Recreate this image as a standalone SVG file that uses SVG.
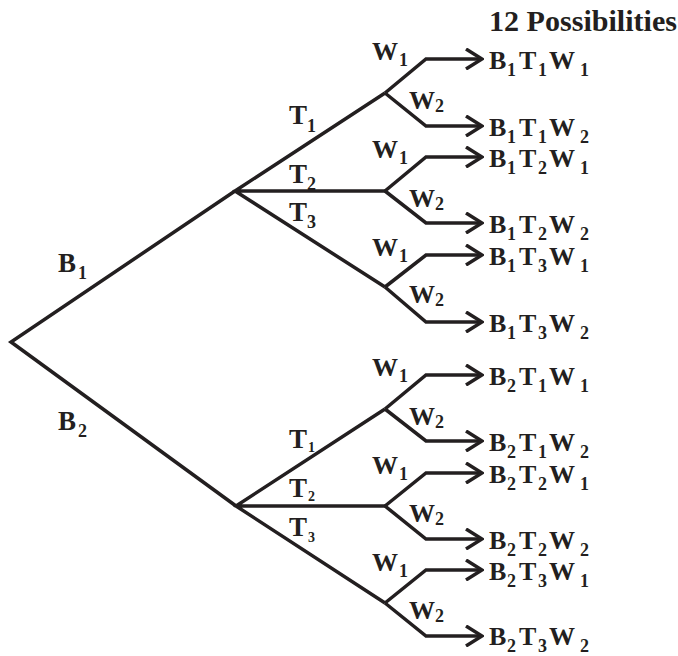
<svg xmlns="http://www.w3.org/2000/svg" width="678" height="656" viewBox="0 0 678 656">
  <style>
    .ln { fill: none; stroke: #231f20; stroke-width: 3.5; stroke-linejoin: miter; stroke-linecap: butt; }
    .lf { fill: none; stroke: #231f20; stroke-width: 3.5; stroke-linejoin: miter; marker-end: url(#arr); }
    text { font-family: "Liberation Serif", "Times New Roman", serif; font-weight: bold; fill: #231f20; }
    .t { font-size: 27px; }
    .w { font-size: 26px; }
    .o { font-size: 26px; }
    .s { font-size: 18px; }
    .ss { font-size: 14px; }
  </style>
  <defs>
    <marker id="arr" viewBox="0 0 20 22" refX="18" refY="11" markerWidth="20" markerHeight="22" markerUnits="userSpaceOnUse" orient="auto">
      <path d="M2,1 L18,11 L2,21" fill="none" stroke="#231f20" stroke-width="3.5" stroke-linejoin="miter"/>
    </marker>
  </defs>
  <rect width="678" height="656" fill="#ffffff"/>

  <g id="connectors">
    <path class="ln" d="M235,191 L11,342 L236,506"/>
    <path class="ln" d="M385,93 L235,191 L385,287 M235,191 L385,191"/>
    <path class="ln" d="M385,409 L236,506 L385,603 M236,506 L385,506"/>
    <path class="lf" d="M385,93 L426,59 L482,59"/>
    <path class="lf" d="M385,93 L426,126 L482,126"/>
    <path class="lf" d="M385,191 L426,157 L482,157"/>
    <path class="lf" d="M385,191 L426,223 L482,223"/>
    <path class="lf" d="M385,287 L426,255 L482,255"/>
    <path class="lf" d="M385,287 L426,322 L482,322"/>
    <path class="lf" d="M385,409 L426,375 L482,375"/>
    <path class="lf" d="M385,409 L426,441 L482,441"/>
    <path class="lf" d="M385,506 L426,473 L482,473"/>
    <path class="lf" d="M385,506 L426,539 L482,539"/>
    <path class="lf" d="M385,603 L426,570 L482,570"/>
    <path class="lf" d="M385,603 L426,636 L482,636"/>
  </g>

  <g id="edge-labels">
    <text class="t" x="58" y="272">B<tspan class="s" x="78" y="279">1</tspan></text>
    <text class="t" x="58" y="430">B<tspan class="s" x="78" y="437">2</tspan></text>
    <text class="t" x="289" y="124">T<tspan class="s" x="307" y="132">1</tspan></text>
    <text class="t" x="289" y="183">T<tspan class="s" x="307" y="190">2</tspan></text>
    <text class="t" x="289" y="221">T<tspan class="s" x="307" y="228">3</tspan></text>
    <text class="t" x="289" y="448">T<tspan class="ss" x="308" y="452">1</tspan></text>
    <text class="t" x="289" y="497">T<tspan class="ss" x="308" y="501">2</tspan></text>
    <text class="t" x="289" y="536">T<tspan class="ss" x="308" y="542">3</tspan></text>

    <text class="w" x="372" y="60">W<tspan class="s" x="399" y="66">1</tspan></text>
    <text class="w" x="409" y="109">W<tspan class="s" x="435" y="112">2</tspan></text>
    <text class="w" x="372" y="158">W<tspan class="s" x="399" y="164">1</tspan></text>
    <text class="w" x="409" y="207">W<tspan class="s" x="435" y="210">2</tspan></text>
    <text class="w" x="372" y="256">W<tspan class="s" x="399" y="262">1</tspan></text>
    <text class="w" x="409" y="303">W<tspan class="s" x="435" y="306">2</tspan></text>
    <text class="w" x="372" y="376">W<tspan class="s" x="399" y="382">1</tspan></text>
    <text class="w" x="409" y="425">W<tspan class="s" x="435" y="428">2</tspan></text>
    <text class="w" x="372" y="474">W<tspan class="s" x="399" y="480">1</tspan></text>
    <text class="w" x="409" y="522">W<tspan class="s" x="435" y="525">2</tspan></text>
    <text class="w" x="372" y="571">W<tspan class="s" x="399" y="577">1</tspan></text>
    <text class="w" x="409" y="619">W<tspan class="s" x="435" y="622">2</tspan></text>
  </g>

  <g id="title">
    <text x="489" y="31" font-size="29" textLength="188" lengthAdjust="spacingAndGlyphs">12 Possibilities</text>
  </g>

  <g id="n-b1t1w1"><text class="o" x="489" y="69">B<tspan class="s" x="507" y="76">1</tspan><tspan x="519" y="69">T</tspan><tspan class="s" x="538" y="76">1</tspan><tspan x="549" y="69">W</tspan><tspan class="s" x="580" y="76">1</tspan></text></g>
  <g id="n-b1t1w2"><text class="o" x="489" y="136">B<tspan class="s" x="507" y="143">1</tspan><tspan x="519" y="136">T</tspan><tspan class="s" x="538" y="143">1</tspan><tspan x="549" y="136">W</tspan><tspan class="s" x="580" y="143">2</tspan></text></g>
  <g id="n-b1t2w1"><text class="o" x="489" y="167">B<tspan class="s" x="507" y="174">1</tspan><tspan x="519" y="167">T</tspan><tspan class="s" x="538" y="174">2</tspan><tspan x="549" y="167">W</tspan><tspan class="s" x="580" y="174">1</tspan></text></g>
  <g id="n-b1t2w2"><text class="o" x="489" y="233">B<tspan class="s" x="507" y="240">1</tspan><tspan x="519" y="233">T</tspan><tspan class="s" x="538" y="240">2</tspan><tspan x="549" y="233">W</tspan><tspan class="s" x="580" y="240">2</tspan></text></g>
  <g id="n-b1t3w1"><text class="o" x="489" y="265">B<tspan class="s" x="507" y="272">1</tspan><tspan x="519" y="265">T</tspan><tspan class="s" x="538" y="272">3</tspan><tspan x="549" y="265">W</tspan><tspan class="s" x="580" y="272">1</tspan></text></g>
  <g id="n-b1t3w2"><text class="o" x="489" y="332">B<tspan class="s" x="507" y="339">1</tspan><tspan x="519" y="332">T</tspan><tspan class="s" x="538" y="339">3</tspan><tspan x="549" y="332">W</tspan><tspan class="s" x="580" y="339">2</tspan></text></g>
  <g id="n-b2t1w1"><text class="o" x="489" y="385">B<tspan class="s" x="507" y="392">2</tspan><tspan x="519" y="385">T</tspan><tspan class="s" x="538" y="392">1</tspan><tspan x="549" y="385">W</tspan><tspan class="s" x="580" y="392">1</tspan></text></g>
  <g id="n-b2t1w2"><text class="o" x="489" y="451">B<tspan class="s" x="507" y="458">2</tspan><tspan x="519" y="451">T</tspan><tspan class="s" x="538" y="458">1</tspan><tspan x="549" y="451">W</tspan><tspan class="s" x="580" y="458">2</tspan></text></g>
  <g id="n-b2t2w1"><text class="o" x="489" y="483">B<tspan class="s" x="507" y="490">2</tspan><tspan x="519" y="483">T</tspan><tspan class="s" x="538" y="490">2</tspan><tspan x="549" y="483">W</tspan><tspan class="s" x="580" y="490">1</tspan></text></g>
  <g id="n-b2t2w2"><text class="o" x="489" y="549">B<tspan class="s" x="507" y="556">2</tspan><tspan x="519" y="549">T</tspan><tspan class="s" x="538" y="556">2</tspan><tspan x="549" y="549">W</tspan><tspan class="s" x="580" y="556">2</tspan></text></g>
  <g id="n-b2t3w1"><text class="o" x="489" y="580">B<tspan class="s" x="507" y="587">2</tspan><tspan x="519" y="580">T</tspan><tspan class="s" x="538" y="587">3</tspan><tspan x="549" y="580">W</tspan><tspan class="s" x="580" y="587">1</tspan></text></g>
  <g id="n-b2t3w2"><text class="o" x="489" y="645">B<tspan class="s" x="507" y="652">2</tspan><tspan x="519" y="645">T</tspan><tspan class="s" x="538" y="652">3</tspan><tspan x="549" y="645">W</tspan><tspan class="s" x="580" y="652">2</tspan></text></g>
</svg>
